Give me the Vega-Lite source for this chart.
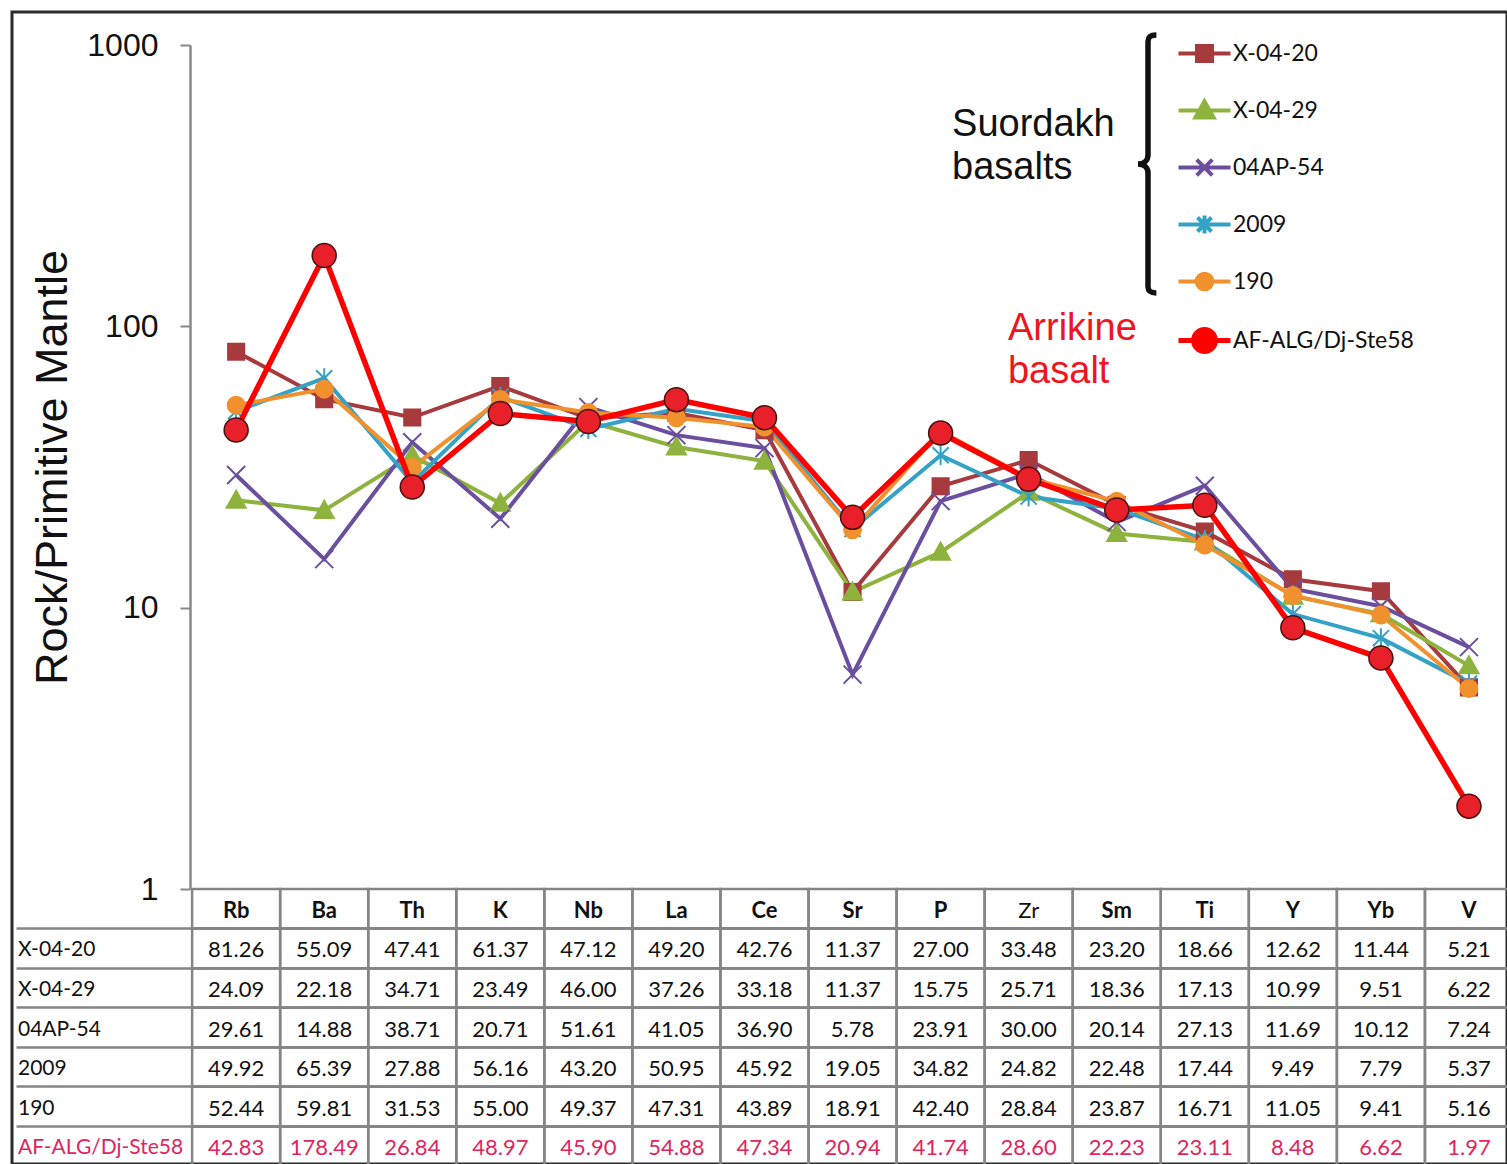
{
  "$schema": "https://vega.github.io/schema/vega-lite/v6.json",
  "width": 1495,
  "height": 1152,
  "padding": {"left": 12, "top": 12, "right": 0, "bottom": 0},
  "autosize": {"type": "none"},
  "datasets": {
    "rows": [
      {"s":"X-04-20","e":"Rb","v":81.26},{"s":"X-04-20","e":"Ba","v":55.09},{"s":"X-04-20","e":"Th","v":47.41},{"s":"X-04-20","e":"K","v":61.37},{"s":"X-04-20","e":"Nb","v":47.12},{"s":"X-04-20","e":"La","v":49.20},{"s":"X-04-20","e":"Ce","v":42.76},{"s":"X-04-20","e":"Sr","v":11.37},{"s":"X-04-20","e":"P","v":27.00},{"s":"X-04-20","e":"Zr","v":33.48},{"s":"X-04-20","e":"Sm","v":23.20},{"s":"X-04-20","e":"Ti","v":18.66},{"s":"X-04-20","e":"Y","v":12.62},{"s":"X-04-20","e":"Yb","v":11.44},{"s":"X-04-20","e":"V","v":5.21},
      {"s":"X-04-29","e":"Rb","v":24.09},{"s":"X-04-29","e":"Ba","v":22.18},{"s":"X-04-29","e":"Th","v":34.71},{"s":"X-04-29","e":"K","v":23.49},{"s":"X-04-29","e":"Nb","v":46.00},{"s":"X-04-29","e":"La","v":37.26},{"s":"X-04-29","e":"Ce","v":33.18},{"s":"X-04-29","e":"Sr","v":11.37},{"s":"X-04-29","e":"P","v":15.75},{"s":"X-04-29","e":"Zr","v":25.71},{"s":"X-04-29","e":"Sm","v":18.36},{"s":"X-04-29","e":"Ti","v":17.13},{"s":"X-04-29","e":"Y","v":10.99},{"s":"X-04-29","e":"Yb","v":9.51},{"s":"X-04-29","e":"V","v":6.22},
      {"s":"04AP-54","e":"Rb","v":29.61},{"s":"04AP-54","e":"Ba","v":14.88},{"s":"04AP-54","e":"Th","v":38.71},{"s":"04AP-54","e":"K","v":20.71},{"s":"04AP-54","e":"Nb","v":51.61},{"s":"04AP-54","e":"La","v":41.05},{"s":"04AP-54","e":"Ce","v":36.90},{"s":"04AP-54","e":"Sr","v":5.78},{"s":"04AP-54","e":"P","v":23.91},{"s":"04AP-54","e":"Zr","v":30.00},{"s":"04AP-54","e":"Sm","v":20.14},{"s":"04AP-54","e":"Ti","v":27.13},{"s":"04AP-54","e":"Y","v":11.69},{"s":"04AP-54","e":"Yb","v":10.12},{"s":"04AP-54","e":"V","v":7.24},
      {"s":"2009","e":"Rb","v":49.92},{"s":"2009","e":"Ba","v":65.39},{"s":"2009","e":"Th","v":27.88},{"s":"2009","e":"K","v":56.16},{"s":"2009","e":"Nb","v":43.20},{"s":"2009","e":"La","v":50.95},{"s":"2009","e":"Ce","v":45.92},{"s":"2009","e":"Sr","v":19.05},{"s":"2009","e":"P","v":34.82},{"s":"2009","e":"Zr","v":24.82},{"s":"2009","e":"Sm","v":22.48},{"s":"2009","e":"Ti","v":17.44},{"s":"2009","e":"Y","v":9.49},{"s":"2009","e":"Yb","v":7.79},{"s":"2009","e":"V","v":5.37},
      {"s":"190","e":"Rb","v":52.44},{"s":"190","e":"Ba","v":59.81},{"s":"190","e":"Th","v":31.53},{"s":"190","e":"K","v":55.00},{"s":"190","e":"Nb","v":49.37},{"s":"190","e":"La","v":47.31},{"s":"190","e":"Ce","v":43.89},{"s":"190","e":"Sr","v":18.91},{"s":"190","e":"P","v":42.40},{"s":"190","e":"Zr","v":28.84},{"s":"190","e":"Sm","v":23.87},{"s":"190","e":"Ti","v":16.71},{"s":"190","e":"Y","v":11.05},{"s":"190","e":"Yb","v":9.41},{"s":"190","e":"V","v":5.16},
      {"s":"AF-ALG/Dj-Ste58","e":"Rb","v":42.83},{"s":"AF-ALG/Dj-Ste58","e":"Ba","v":178.49},{"s":"AF-ALG/Dj-Ste58","e":"Th","v":26.84},{"s":"AF-ALG/Dj-Ste58","e":"K","v":48.97},{"s":"AF-ALG/Dj-Ste58","e":"Nb","v":45.90},{"s":"AF-ALG/Dj-Ste58","e":"La","v":54.88},{"s":"AF-ALG/Dj-Ste58","e":"Ce","v":47.34},{"s":"AF-ALG/Dj-Ste58","e":"Sr","v":20.94},{"s":"AF-ALG/Dj-Ste58","e":"P","v":41.74},{"s":"AF-ALG/Dj-Ste58","e":"Zr","v":28.60},{"s":"AF-ALG/Dj-Ste58","e":"Sm","v":22.23},{"s":"AF-ALG/Dj-Ste58","e":"Ti","v":23.11},{"s":"AF-ALG/Dj-Ste58","e":"Y","v":8.48},{"s":"AF-ALG/Dj-Ste58","e":"Yb","v":6.62},{"s":"AF-ALG/Dj-Ste58","e":"V","v":1.97}
    ]
  },
  "data": {"name": "rows"},
  "layer": [
    {
      "layer": [
        {
          "transform": [{"filter": "datum.s !== 'AF-ALG/Dj-Ste58'"}],
          "mark": {"type": "line", "strokeWidth": 4},
          "encoding": {
            "x": {"field": "e", "type": "nominal", "axis": null,
                  "scale": {"type": "band", "domain": ["_a","_b","Rb","Ba","Th","K","Nb","La","Ce","Sr","P","Zr","Sm","Ti","Y","Yb","V"], "range": [4, 1501], "paddingInner": 0, "paddingOuter": 0}},
            "y": {"field": "v", "type": "quantitative",
                  "scale": {"type": "log", "domain": [1, 1000], "range": [877, 33]},
                  "axis": {"orient": "left", "offset": -178, "values": [1, 10, 100, 1000], "format": "d",
                           "labelFont": "Liberation Sans", "labelFontSize": 32, "labelColor": "#111", "labelPadding": 22,
                           "tickSize": 10, "tickColor": "#888", "tickWidth": 2, "domainColor": "#888", "domainWidth": 2.5,
                           "grid": false, "title": "Rock/Primitive Mantle", "titleFont": "Liberation Sans", "titleFontSize": 45,
                           "titleFontWeight": "normal", "titleColor": "#111", "titleX": -138, "titleBaseline": "middle"}},
            "color": {"field": "s", "type": "nominal",
                      "scale": {"domain": ["X-04-20","X-04-29","04AP-54","2009","190","AF-ALG/Dj-Ste58"], "range": ["#A63A3D","#8DB33E","#6B4F9E","#33A2C6","#F0912E","#FF0000"]},
                      "legend": {"orient": "none", "legendX": 1181, "legendY": 30, "title": null, "padding": 0,
                                 "symbolSize": 2704, "symbolStrokeWidth": 4, "labelFont": "Lato", "labelFontSize": 23,
                                 "labelColor": "#111", "labelOffset": 17, "rowPadding": -12, "labelLimit": 400,
                                 "encode": {"symbols": {"update": {
                                   "shape": {"signal": "datum.value === 'X-04-20' ? 'M0,-1L0,-1M0,1L0,1M-1,0H1M-0.29,-0.29H0.29V0.29H-0.29Z' : datum.value === 'X-04-29' ? 'M0,-1L0,-1M0,1L0,1M-1,0H1M0,-0.35L0.35,0.27H-0.35Z' : datum.value === '04AP-54' ? 'M0,-1L0,-1M0,1L0,1M-1,0H1M-0.3,-0.3L0.3,0.3M-0.3,0.3L0.3,-0.3' : datum.value === '2009' ? 'M0,-1L0,-1M0,1L0,1M-1,0H1M-0.27,-0.27L0.27,0.27M-0.27,0.27L0.27,-0.27M0,-0.35V0.35' : datum.value === '190' ? 'M0,-1L0,-1M0,1L0,1M-1,0H1M-0.3,0A0.3,0.3,0,1,1,0.3,0A0.3,0.3,0,1,1,-0.3,0Z' : 'M0,-1L0,-1M0,1L0,1M-1,0H1M-0.42,0A0.42,0.42,0,1,1,0.42,0A0.42,0.42,0,1,1,-0.42,0Z'"},
                                   "size": {"value": 2704},
                                   "fill": {"scale": "color", "field": "value"},
                                   "stroke": {"scale": "color", "field": "value"},
                                   "strokeWidth": {"signal": "datum.value === 'AF-ALG/Dj-Ste58' ? 5 : 4"},
                                   "opacity": {"value": 1}
                                 }}}}},
            "order": {"value": null}
          }
        },
        {
          "transform": [{"filter": "datum.s !== 'AF-ALG/Dj-Ste58'"}],
          "mark": {"type": "point", "filled": true, "size": 2704, "strokeWidth": 2, "opacity": 1},
          "encoding": {
            "x": {"field": "e", "type": "nominal", "axis": null},
            "y": {"field": "v", "type": "quantitative"},
            "color": {"field": "s", "type": "nominal"},
            "stroke": {"field": "s", "type": "nominal", "legend": null,
                       "scale": {"domain": ["X-04-20","X-04-29","04AP-54","2009","190"], "range": ["#A63A3D","#8DB33E","#6B4F9E","#33A2C6","#F0912E"]}},
            "shape": {"field": "s", "type": "nominal", "legend": null,
                      "scale": {"domain": ["X-04-20","X-04-29","04AP-54","2009","190"],
                                "range": ["M-0.31,-0.31H0.31V0.31H-0.31Z", "M0,-0.365L0.365,0.29H-0.365Z", "M-0.346,-0.346L0.346,0.346M-0.346,0.346L0.346,-0.346", "M-0.31,-0.31L0.31,0.31M-0.31,0.31L0.31,-0.31M0,-0.385V0.385", "M-0.327,0A0.327,0.327,0,1,1,0.327,0A0.327,0.327,0,1,1,-0.327,0Z"]}}
          }
        },
        {
          "transform": [{"filter": "datum.s === 'AF-ALG/Dj-Ste58'"}],
          "mark": {"type": "line", "strokeWidth": 5.5},
          "encoding": {
            "x": {"field": "e", "type": "nominal", "axis": null},
            "y": {"field": "v", "type": "quantitative"},
            "color": {"field": "s", "type": "nominal"},
            "order": {"value": null}
          }
        },
        {
          "transform": [{"filter": "datum.s === 'AF-ALG/Dj-Ste58'"}],
          "mark": {"type": "point", "shape": "circle", "size": 576, "filled": true, "fill": "#E8202A", "stroke": "#4a1010", "strokeWidth": 1.5, "opacity": 1},
          "encoding": {
            "x": {"field": "e", "type": "nominal", "axis": null},
            "y": {"field": "v", "type": "quantitative"}
          }
        },
        {
          "data": {"values": [{"t": "Suordakh\nbasalts"}]},
          "mark": {"type": "text", "font": "Liberation Sans", "fontSize": 38, "lineHeight": 43, "lineBreak": "\n", "align": "left", "baseline": "middle", "color": "#111"},
          "encoding": {
            "x": {"datum": "P", "type": "nominal", "bandPosition": 0.63, "axis": null},
            "y": {"datum": 517.5, "type": "quantitative"},
            "text": {"field": "t"}
          }
        },
        {
          "data": {"values": [{"t": "Arrikine\nbasalt"}]},
          "mark": {"type": "text", "font": "Liberation Sans", "fontSize": 38, "lineHeight": 43, "lineBreak": "\n", "align": "left", "baseline": "middle", "color": "#F0141E"},
          "encoding": {
            "x": {"datum": "Zr", "type": "nominal", "bandPosition": 0.265, "axis": null},
            "y": {"datum": 98.2, "type": "quantitative"},
            "text": {"field": "t"}
          }
        },
        {
          "data": {"values": [{"t": "brace"}]},
          "mark": {"type": "point", "shape": "M0.065,-1C0.02,-1 0,-0.985 0,-0.95L0,-0.07C0,-0.03 -0.03,0 -0.078,0C-0.03,0 0,0.03 0,0.07L0,0.95C0,0.985 0.02,1 0.065,1", "size": 66564, "filled": false, "stroke": "#111", "strokeWidth": 5.5, "opacity": 1},
          "encoding": {
            "x": {"datum": "Sm", "type": "nominal", "bandPosition": 0.855, "axis": null},
            "y": {"datum": 377.7, "type": "quantitative"}
          }
        }
      ]
    },
    {
      "layer": [
        {
          "mark": {"type": "rect", "fillOpacity": 0, "stroke": "#858585", "strokeWidth": 2.5},
          "encoding": {
            "x": {"field": "e", "type": "nominal", "axis": null},
            "y": {"field": "s", "type": "nominal",
                  "scale": {"type": "band", "domain": ["hdr","X-04-20","X-04-29","04AP-54","2009","190","AF-ALG/Dj-Ste58"], "range": [877, 1154], "paddingInner": 0, "paddingOuter": 0},
                  "axis": {"orient": "left", "values": ["X-04-20","X-04-29","04AP-54","2009","190","AF-ALG/Dj-Ste58"], "bandPosition": 0,
                           "grid": true, "gridColor": "#858585", "gridWidth": 2.5, "domain": false, "ticks": false, "labels": false, "title": null}}
          }
        },
        {
          "transform": [{"filter": "datum.s === 'X-04-20'"}],
          "mark": {"type": "rect", "fillOpacity": 0, "stroke": "#858585", "strokeWidth": 2.5},
          "encoding": {
            "x": {"field": "e", "type": "nominal", "axis": null},
            "y": {"datum": "hdr", "type": "nominal"}
          }
        },
        {
          "transform": [{"filter": "datum.s === 'X-04-20' && datum.e !== 'Zr'"}],
          "mark": {"type": "text", "font": "Lato", "fontSize": 22, "fontWeight": "bold", "baseline": "middle", "align": "center", "color": "#111", "dy": 2},
          "encoding": {
            "x": {"field": "e", "type": "nominal", "axis": null},
            "y": {"datum": "hdr", "type": "nominal"},
            "text": {"field": "e"}
          }
        },
        {
          "transform": [{"filter": "datum.s === 'X-04-20' && datum.e === 'Zr'"}],
          "mark": {"type": "text", "font": "Lato", "fontSize": 22, "baseline": "middle", "align": "center", "color": "#111", "dy": 2},
          "encoding": {
            "x": {"field": "e", "type": "nominal", "axis": null},
            "y": {"datum": "hdr", "type": "nominal"},
            "text": {"field": "e"}
          }
        },
        {
          "mark": {"type": "text", "font": "Lato", "fontSize": 22, "baseline": "middle", "align": "center", "dy": 2},
          "encoding": {
            "x": {"field": "e", "type": "nominal", "axis": null},
            "y": {"field": "s", "type": "nominal"},
            "text": {"field": "v", "type": "quantitative", "format": ".2f"},
            "color": {"condition": {"test": "datum.s === 'AF-ALG/Dj-Ste58'", "value": "#E0245E"}, "value": "#111"}
          }
        },
        {
          "transform": [{"filter": "datum.e === 'Rb'"}],
          "mark": {"type": "text", "font": "Lato", "fontSize": 21, "baseline": "middle", "align": "left", "dx": 2, "dy": 2},
          "encoding": {
            "x": {"datum": "_a", "type": "nominal", "bandPosition": 0, "axis": null},
            "y": {"field": "s", "type": "nominal"},
            "text": {"field": "s"},
            "color": {"condition": {"test": "datum.s === 'AF-ALG/Dj-Ste58'", "value": "#E0245E"}, "value": "#111"}
          }
        }
      ]
    }
  ],
  "resolve": {"scale": {"y": "independent"}, "axis": {"y": "independent"}},
  "config": {
    "view": {"stroke": "#2b2b2b", "strokeWidth": 3},
    "font": "Lato"
  }
}
